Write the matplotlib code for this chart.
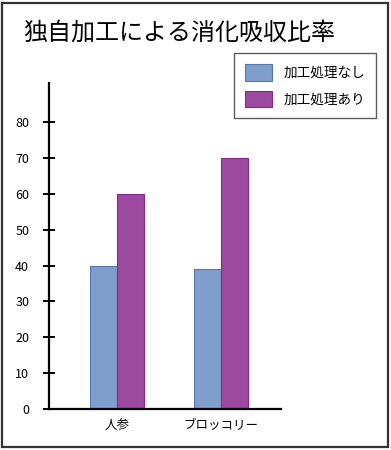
import numpy as np
import matplotlib
matplotlib.use('Agg')
import matplotlib.pyplot as plt
from matplotlib.patches import Rectangle

plt.rcParams['font.family'] = ['Noto Sans CJK JP', 'DejaVu Sans']

categories = ['人参', 'ブロッコリー']
series_names = ['加工処理なし', '加工処理あり']
without_proc = [40, 39]
with_proc = [60, 70]
yticks = [0, 10, 20, 30, 40, 50, 60, 70, 80]

face_colors = ['#809ECB', '#9B4AA0']
edge_colors = ['#5577AE', '#86288C']

fig = plt.figure(figsize=(3.91, 4.5), dpi=100)
ax = fig.add_axes([0.1253, 0.0904, 0.5934, 0.7252])

x = np.arange(len(categories))
w = 0.26
ax.bar(x - w / 2, without_proc, w, color=face_colors[0], edgecolor=edge_colors[0],
       linewidth=0.8, label=series_names[0])
ax.bar(x + w / 2, with_proc, w, color=face_colors[1], edgecolor=edge_colors[1],
       linewidth=0.8, label=series_names[1])

ax.set_xlim(-0.654, 1.577)
ax.set_ylim(0, 90.8)
ax.set_xticks(x)
ax.set_xticklabels(categories, fontsize=9)
ax.set_yticks(yticks)
ax.set_yticklabels([str(v) for v in yticks], fontsize=9)
ax.tick_params(axis='x', length=0, pad=7)
ax.tick_params(axis='y', direction='inout', length=8.5, width=1.4, pad=10)

for s in ['top', 'right']:
    ax.spines[s].set_visible(False)
for s in ['left', 'bottom']:
    ax.spines[s].set_linewidth(1.6)

leg = fig.legend(loc='upper left', bbox_to_anchor=(0.598, 0.882), borderaxespad=0,
                 fontsize=9.8, frameon=True, fancybox=False, edgecolor='#333333',
                 handlelength=2.0, handleheight=1.5, borderpad=0.8,
                 labelspacing=0.75, handletextpad=0.85)
leg.get_frame().set_linewidth(1.0)

fig.text(0.06, 0.928, '独自加工による消化吸収比率', fontsize=17.3, va='center', ha='left')

fig.patches.append(Rectangle((0.005, 0.006), 0.988, 0.988, transform=fig.transFigure,
                             fill=False, edgecolor='#333333', linewidth=1.6))

fig.savefig('out.png', dpi=100)
